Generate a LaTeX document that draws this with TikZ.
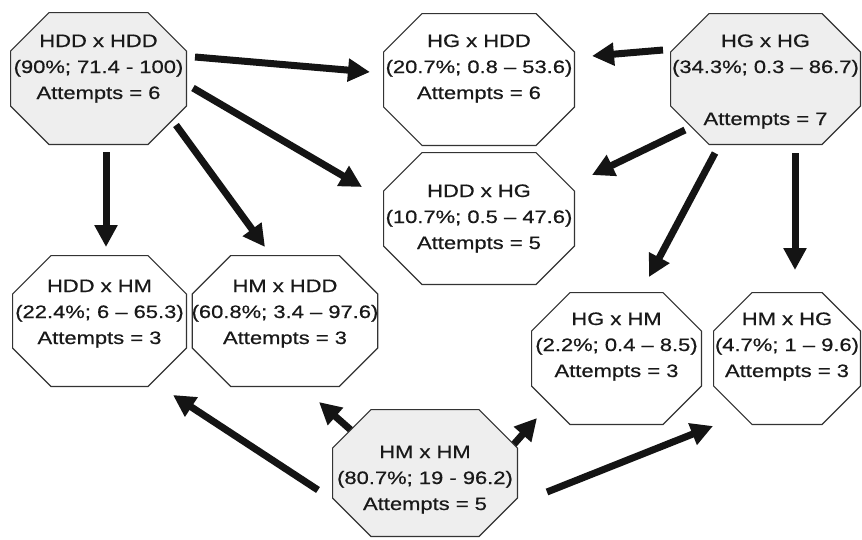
\documentclass[tikz,border=0pt]{standalone}
\usepackage{fontspec}
\setmainfont{Liberation Sans}[FakeStretch=1.22,FakeBold=0.6]
\usetikzlibrary{arrows.meta,calc,backgrounds}
\newcommand\octoutline[1]{%
  \path[fill=#1,draw=black!80,line width=1.2pt]
   ([xshift=39pt,yshift=-0.6pt]path picture bounding box.north west)
   -- ([xshift=-39pt,yshift=-0.6pt]path picture bounding box.north east)
   -- ([xshift=-0.6pt,yshift=-39pt]path picture bounding box.north east)
   -- ([xshift=-0.6pt,yshift=39pt]path picture bounding box.south east)
   -- ([xshift=-39pt,yshift=0.6pt]path picture bounding box.south east)
   -- ([xshift=39pt,yshift=0.6pt]path picture bounding box.south west)
   -- ([xshift=0.6pt,yshift=39pt]path picture bounding box.south west)
   -- ([xshift=0.6pt,yshift=-39pt]path picture bounding box.north west)
   -- cycle;}
\newcommand\octtext[3]{\begin{tabular}[t]{@{}c@{}}#1\\#2\\#3\end{tabular}}
\begin{document}
\begin{tikzpicture}[x=1pt,y=-1pt,
  oct/.style={rectangle,inner sep=0pt,text height=13pt,font=\fontsize{18}{26}\selectfont,text=black!90},
  octw/.style={oct,path picture={\octoutline{white}}},
  octg/.style={oct,path picture={\octoutline{gray!13}}},
  arr/.style={draw=black!92,line width=7pt,-{Triangle[length=22pt,width=22pt]}}]
\useasboundingbox (0,0) rectangle (862,539);

\node[octg,minimum width=177pt,minimum height=133pt,text depth=76pt] (hddhdd) at (98.5,78.5)
  {\octtext{HDD x HDD}{(90\%; 71.4 - 100)}{Attempts = 6}};
\node[octw,minimum width=192pt,minimum height=133pt,text depth=78pt] (hghdd) at (479,79.5)
  {\octtext{HG x HDD}{(20.7\%; 0.8 -- 53.6)}{Attempts = 6}};
\node[octg,minimum width=191pt,minimum height=132pt,text depth=77pt] (hghg) at (765.5,79)
  {\begin{tabular}[t]{@{}c@{}}HG x HG\\(34.3\%; 0.3 -- 86.7)\\[26pt]Attempts = 7\end{tabular}};
\node[octw,minimum width=192pt,minimum height=133pt,text depth=56pt] (hddhg) at (479,218.5)
  {\octtext{HDD x HG}{(10.7\%; 0.5 -- 47.6)}{Attempts = 5}};
\node[octw,minimum width=175pt,minimum height=132pt,text depth=71pt] (hddhm) at (99.5,321)
  {\octtext{HDD x HM}{(22.4\%; 6 -- 65.3)}{Attempts = 3}};
\node[octw,minimum width=186pt,minimum height=132pt,text depth=71pt] (hmhdd) at (285,321)
  {\octtext{HM x HDD}{(60.8\%; 3.4 -- 97.6)}{Attempts = 3}};
\node[octw,minimum width=171pt,minimum height=133pt,text depth=80pt] (hghm) at (616.5,358.5)
  {\octtext{HG x HM}{(2.2\%; 0.4 -- 8.5)}{Attempts = 3}};
\node[octw,minimum width=148pt,minimum height=133pt,text depth=80pt] (hmhg) at (787,358.5)
  {\octtext{HM x HG}{(4.7\%; 1 -- 9.6)}{Attempts = 3}};
\node[octg,minimum width=186pt,minimum height=128pt,text depth=43pt] (hmhm) at (425,473)
  {\octtext{HM x HM}{(80.7\%; 19 - 96.2)}{Attempts = 5}};

\draw[arr] ($(hddhdd.center)+(96.5,-21.5)$) -- ($(hghdd.center)+(-109,-7.5)$);
\draw[arr] ($(hddhdd.center)+(94.5,9.5)$) -- ($(hddhg.center)+(-117,-31.5)$);
\draw[arr] ($(hddhdd.center)+(7.5,73.5)$) -- ($(hddhm.center)+(6.5,-74)$);
\draw[arr] ($(hddhdd.center)+(77.5,46.5)$) -- ($(hmhdd.center)+(-20,-74)$);
\draw[arr] ($(hghg.center)+(-102.5,-29)$) -- ($(hghdd.center)+(113,-23.5)$);
\draw[arr] ($(hghg.center)+(-80.5,51)$) -- ($(hddhg.center)+(113,-43.5)$);
\draw[arr] ($(hghg.center)+(-50.5,74)$) -- ($(hghm.center)+(32.5,-81.5)$);
\draw[arr] ($(hghg.center)+(29.5,74)$) -- ($(hmhg.center)+(8,-88.5)$);
\draw[arr] ($(hmhm.center)+(-107,17)$) -- ($(hddhm.center)+(73.5,74)$);
\draw[arr] ($(hmhm.center)+(122,19)$) -- ($(hmhg.center)+(-74,67.5)$);
\begin{scope}[on background layer]
\fill[white] (0,0) rectangle (862,539);
\draw[arr] ($(hmhm.center)+(-31,-5)$) -- ($(hmhdd.center)+(34,81)$);
\draw[arr] ($(hmhm.center)+(46,20)$) -- ($(hghm.center)+(-79.5,59.5)$);
\end{scope}
\end{tikzpicture}
\end{document}
